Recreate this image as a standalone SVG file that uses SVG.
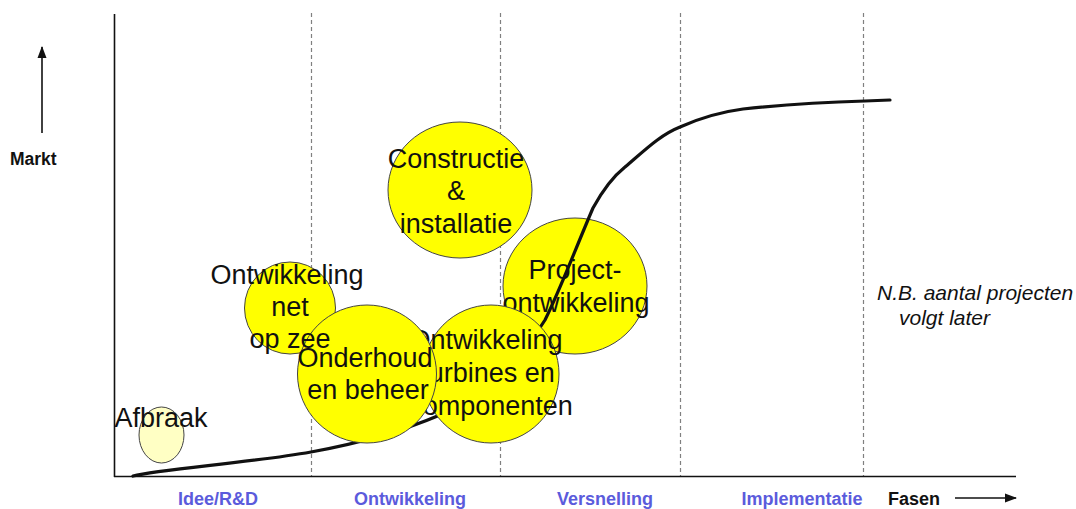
<svg xmlns="http://www.w3.org/2000/svg" width="1076" height="509" viewBox="0 0 1076 509">
<style>
.bub{fill:#ffff00;stroke:#444;stroke-width:1}
.big{font-family:"Liberation Sans",Arial,sans-serif;font-size:27px;fill:#111;text-anchor:middle}
.lbl{font-family:"Liberation Sans",Arial,sans-serif;font-size:18px;font-weight:bold;fill:#5b5bdc;text-anchor:middle}
.ax{font-family:"Liberation Sans",Arial,sans-serif;font-size:18px;font-weight:bold;fill:#111}
.nb{font-family:"Liberation Sans",Arial,sans-serif;font-size:21px;font-style:italic;fill:#111}
.dash{stroke:#808080;stroke-width:1.2;stroke-dasharray:4 3}
.axis{stroke:#111;stroke-width:1.6;fill:none}
</style>
<defs>
<marker id="ah" markerWidth="12" markerHeight="12" refX="11" refY="6" orient="auto" markerUnits="userSpaceOnUse">
<path d="M0,1.5 L12,6 L0,10.5 Z" fill="#111"/>
</marker>
</defs>
<rect width="1076" height="509" fill="#ffffff"/>
<g id="grid">
<line class="dash" x1="311.5" y1="13" x2="311.5" y2="476"/>
<line class="dash" x1="500.5" y1="13" x2="500.5" y2="476"/>
<line class="dash" x1="680.5" y1="13" x2="680.5" y2="476"/>
<line class="dash" x1="863.5" y1="13" x2="863.5" y2="476"/>
</g>
<g id="axes">
<line class="axis" x1="114.5" y1="14" x2="114.5" y2="477"/>
<line class="axis" x1="114" y1="476.5" x2="1016" y2="476.5"/>
<line class="axis" x1="42" y1="133" x2="42" y2="47" marker-end="url(#ah)"/>
<line class="axis" x1="955" y1="498" x2="1016" y2="498" marker-end="url(#ah)"/>
<text class="ax" x="10" y="165" style="font-size:17.5px">Markt</text>
<text class="ax" x="888" y="505">Fasen</text>
</g>
<g id="phases">
<text class="lbl" x="218" y="505">Idee/R&amp;D</text>
<text class="lbl" x="410" y="505">Ontwikkeling</text>
<text class="lbl" x="605" y="505">Versnelling</text>
<text class="lbl" x="802" y="505">Implementatie</text>
</g>
<g id="note">
<text class="nb" x="877" y="300">N.B. aantal projecten</text>
<text class="nb" x="899" y="325">volgt later</text>
</g>
<g id="afbraak">
<ellipse cx="161.5" cy="435" rx="22.5" ry="28" fill="#ffffc4" stroke="#444" stroke-width="1"/>
<text class="big" x="161" y="427">Afbraak</text>
</g>
<g id="net-op-zee">
<ellipse class="bub" cx="290" cy="308" rx="45.5" ry="46"/>
</g>
<g id="project">
<ellipse class="bub" cx="575" cy="286" rx="72" ry="68"/>
<text class="big" x="575" y="279">Project-</text>
<text class="big" x="576" y="312">ontwikkeling</text>
</g>
<g id="connectors">
<path d="M133,476 C160,469 250,463 311,452 C350,445 400,432 440,415 C490,392 520,360 545,320 C560,290 575,250 593,208 C605,186 615,175 625,167 C645,150 660,135 680,127 C700,118 720,112 743,109 C790,104 830,102 865,101 L890,100" fill="none" stroke="#111" stroke-width="3.2" stroke-linecap="round" stroke-linejoin="round"/>
</g>
<g id="constructie">
<ellipse class="bub" cx="460" cy="190" rx="72" ry="68"/>
<text class="big" x="456" y="168">Constructie</text>
<text class="big" x="456" y="200">&amp;</text>
<text class="big" x="456" y="233">installatie</text>
</g>
<g id="turbines">
<ellipse class="bub" cx="491" cy="374" rx="68" ry="69"/>
<text class="big" x="486" y="349">Ontwikkeling</text>
<text class="big" x="488" y="382">turbines en</text>
<text class="big" x="491" y="415">componenten</text>
</g>
<g id="onderhoud">
<ellipse class="bub" cx="367" cy="374" rx="69.5" ry="69"/>
<text class="big" x="365" y="367">Onderhoud</text>
<text class="big" x="368" y="399">en beheer</text>
</g>
<g id="net-op-zee-text">
<text class="big" x="287" y="284">Ontwikkeling</text>
<text class="big" x="290" y="316">net</text>
<text class="big" x="290" y="348">op zee</text>
</g>
</svg>
